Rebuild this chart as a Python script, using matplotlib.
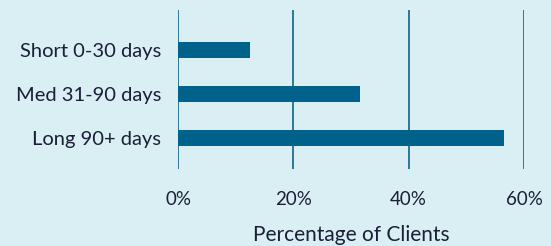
import matplotlib.pyplot as plt
from matplotlib.ticker import FuncFormatter

categories = ['Short 0-30 days', 'Med 31-90 days', 'Long 90+ days']
values = [12.5, 31.5, 56.6]
x_ticks = [0, 20, 40, 60]

bg = '#d9eff4'
bar_color = '#00618a'
grid_color = '#1f6e90'
text_color = '#1a1f36'

plt.rcParams['font.family'] = ['Lato', 'DejaVu Sans']

fig = plt.figure(figsize=(5.51, 2.46), dpi=100, facecolor=bg)
ax = fig.add_axes([178 / 551, 1 - 169 / 246, (524 - 178) / 551, (169 - 10) / 246])
ax.set_facecolor(bg)

ax.barh(range(len(categories)), values, height=0.36, color=bar_color, zorder=3)

ax.set_xlim(0, 60)
ax.set_ylim(2.7, -0.9)
ax.set_xticks(x_ticks)
ax.xaxis.set_major_formatter(FuncFormatter(lambda v, p: f'{v:.0f}%'))
ax.set_yticks(range(len(categories)))
ax.set_yticklabels(categories)

ax.grid(axis='x', color=grid_color, linewidth=1.3, zorder=0)
for s in ax.spines.values():
    s.set_visible(False)
ax.tick_params(length=0, labelcolor=text_color)
ax.tick_params(axis='y', pad=12, labelsize=14.5)
ax.tick_params(axis='x', pad=16, labelsize=13.5)
ax.set_xlabel('Percentage of Clients', fontsize=15, color=text_color, labelpad=12)

fig.savefig('out.png', dpi=100, facecolor=bg)
